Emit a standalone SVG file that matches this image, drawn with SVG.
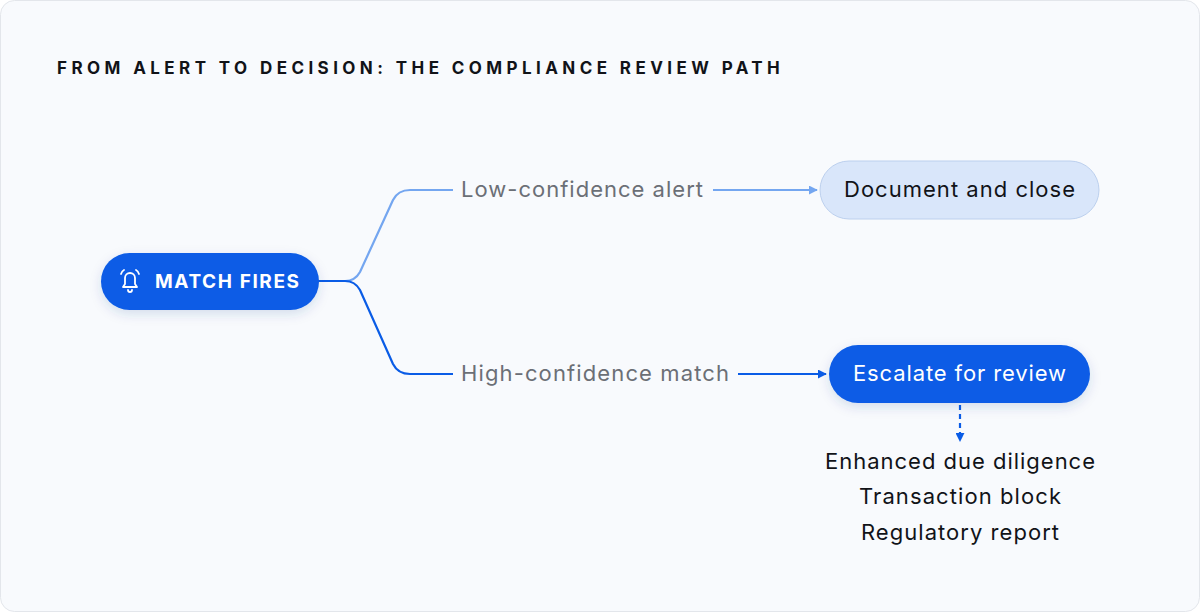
<svg xmlns="http://www.w3.org/2000/svg" width="1200" height="612" viewBox="0 0 1200 612">
<style>
text{font-family:Inter,"Liberation Sans",sans-serif}
.lbl{font-size:22px;fill:#6b6f76}
.out{font-size:22px;fill:#111318;text-anchor:middle}
</style>
<defs>
<marker id="aL" viewBox="0 0 10 10" refX="9" refY="5" markerWidth="9" markerHeight="9" markerUnits="userSpaceOnUse" orient="auto"><path d="M0,0L10,5L0,10z" fill="#74a6f0"/></marker>
<marker id="aD" viewBox="0 0 10 10" refX="9" refY="5" markerWidth="9" markerHeight="9" markerUnits="userSpaceOnUse" orient="auto"><path d="M0,0L10,5L0,10z" fill="#0a5ce6"/></marker>
<filter id="sh" x="-30%" y="-50%" width="160%" height="200%"><feDropShadow dx="0" dy="4" stdDeviation="6" flood-color="#0a3a8a" flood-opacity="0.15"/></filter>
</defs>
<rect x="0.5" y="0.5" width="1199" height="611" rx="14" fill="#f8fafd" stroke="#e3e6eb"/>
<text x="57" y="74" font-size="17" font-weight="700" letter-spacing="2.2" fill="#111318" textLength="725" lengthAdjust="spacing">FROM ALERT TO DECISION: THE COMPLIANCE REVIEW PATH</text>
<g id="connectors" fill="none" stroke-width="2.2">
<path d="M318,281 H345 Q355,281 360,272 L393,200 Q398,190 410,190 H453" stroke="#74a6f0"/>
<path d="M318,281 H345 Q355,281 360,290 L393,364 Q398,374 410,374 H453" stroke="#0a5ce6"/>
<path d="M713,190 H817" stroke="#74a6f0" marker-end="url(#aL)"/>
<path d="M738,374 H826" stroke="#0a5ce6" marker-end="url(#aD)"/>
<path d="M960,405 V441" stroke="#0a5ce6" stroke-dasharray="5,4" marker-end="url(#aD)"/>
</g>
<text class="lbl" x="461" y="197" textLength="242" lengthAdjust="spacing">Low-confidence alert</text>
<text class="lbl" x="461" y="381" textLength="268" lengthAdjust="spacing">High-confidence match</text>
<g id="match">
<rect x="101" y="253" width="218" height="57" rx="28.5" fill="#0a5ce6" filter="url(#sh)"/>
<g fill="none" stroke="#fff" stroke-width="1.8" stroke-linecap="round" stroke-linejoin="round">
<path d="M123,287 H137 L135,284 V278 A5,5 0 0 0 125,278 V284 Z"/>
<path d="M128,290 A2,2 0 0 0 132,290"/>
<path d="M121,274 Q122,271 124,270 M139,274 Q138,271 136,270"/>
</g>
<text x="155" y="288" font-size="19" font-weight="700" fill="#fff" textLength="144" lengthAdjust="spacing">MATCH FIRES</text>
</g>
<g id="close">
<rect x="820" y="161" width="279" height="58" rx="29" fill="#d9e6fa" stroke="#bcd0ee"/>
<text x="844" y="197" font-size="22" fill="#111318" textLength="231" lengthAdjust="spacing">Document and close</text>
</g>
<g id="escalate">
<rect x="829" y="345" width="261" height="58" rx="29" fill="#0a5ce6" filter="url(#sh)"/>
<text x="853" y="381" font-size="22" fill="#fff" textLength="213" lengthAdjust="spacing">Escalate for review</text>
</g>
<g id="outcomes">
<text class="out" x="960" y="469" textLength="270" lengthAdjust="spacing">Enhanced due diligence</text>
<text class="out" x="960" y="504" textLength="202" lengthAdjust="spacing">Transaction block</text>
<text class="out" x="960" y="540" textLength="198" lengthAdjust="spacing">Regulatory report</text>
</g>
</svg>
